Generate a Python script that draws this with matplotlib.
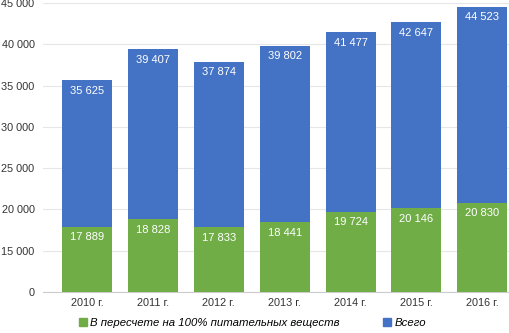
import matplotlib
matplotlib.use("Agg")
import matplotlib.pyplot as plt
import numpy as np
from matplotlib.patches import Patch

plt.rcParams['font.family'] = ['Liberation Sans', 'DejaVu Sans']

years = ['2010 г.', '2011 г.', '2012 г.', '2013 г.', '2014 г.', '2015 г.', '2016 г.']
total = [35625, 39407, 37874, 39802, 41477, 42647, 44523]
nutrients = [17889, 18828, 17833, 18441, 19724, 20146, 20830]
yticks = [0, 15000, 20000, 25000, 30000, 35000, 40000, 45000]

blue = '#4472C4'
green = '#70AD47'


# axis is broken: 0..15000 takes the same room as one 5000 step
def fwd(v):
    v = np.asarray(v, dtype=float)
    return np.where(v < 15000, v / 15000, 1 + (v - 15000) / 5000)


def inv(u):
    u = np.asarray(u, dtype=float)
    return np.where(u < 1, u * 15000, 15000 + (u - 1) * 5000)


def fmt(v):
    return f'{v:,}'.replace(',', ' ')


fig = plt.figure(figsize=(5.10, 3.33), dpi=100)
ax = fig.add_axes([0.084, 0.123, 0.916, 0.868])
ax.set_yscale('function', functions=(fwd, inv))

x = np.arange(len(years))
w = 0.76
ax.bar(x, total, width=w, color=blue, zorder=2)
ax.bar(x, nutrients, width=w, color=green, zorder=3)

for i in range(len(years)):
    ax.annotate(fmt(total[i]), (x[i], total[i]), xytext=(0, -4), textcoords='offset points',
                ha='center', va='top', color='white', fontsize=8, zorder=4)
    ax.annotate(fmt(nutrients[i]), (x[i], nutrients[i]), xytext=(0, -4), textcoords='offset points',
                ha='center', va='top', color='white', fontsize=8, zorder=4)

ax.set_ylim(0, 45000)
ax.set_xlim(-0.67, 6.42)
ax.set_yticks(yticks)
ax.set_yticklabels([fmt(t) for t in yticks])
ax.minorticks_off()
ax.set_xticks(x)
ax.set_xticklabels(years)
ax.tick_params(axis='both', length=0, labelsize=7.8, colors='#333333')
ax.tick_params(axis='y', pad=6)
ax.tick_params(axis='x', pad=4)
ax.grid(axis='y', color='#e6e6e6', linewidth=0.8, zorder=0)
for s in ['top', 'right', 'left']:
    ax.spines[s].set_visible(False)
ax.spines['bottom'].set_color('#cccccc')

handles = [Patch(color=green, label='В пересчете на 100% питательных веществ'),
           Patch(color=blue, label='Всего')]
fig.legend(handles=handles, loc='lower center', bbox_to_anchor=(0.495, -0.015), ncol=2,
           frameon=False, prop={'style': 'italic', 'size': 8.2}, handlelength=0.7,
           handleheight=0.7, handletextpad=0.3, columnspacing=3.8)

fig.savefig('out.png', dpi=100)
